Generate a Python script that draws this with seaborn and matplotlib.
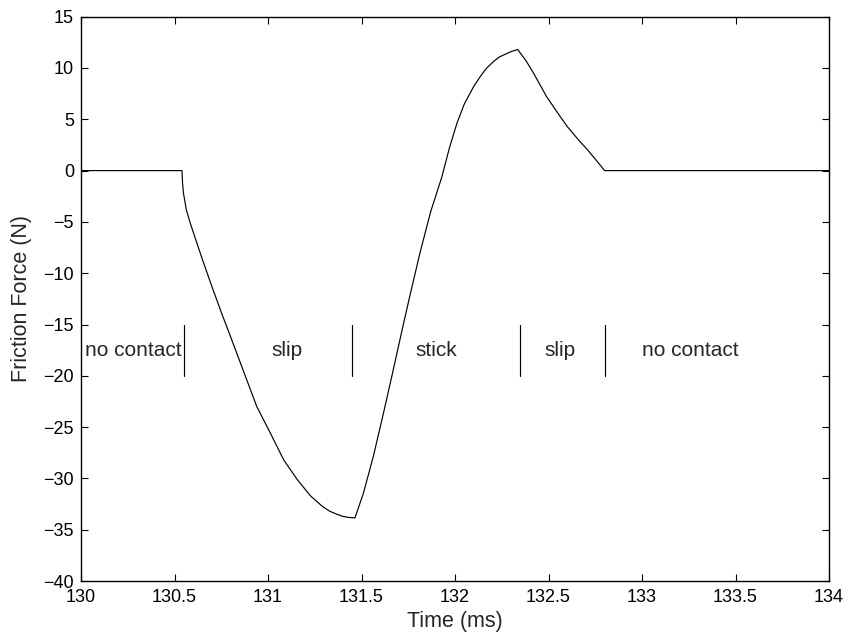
import matplotlib
matplotlib.use("Agg")
import matplotlib.pyplot as plt
import seaborn as sns
import pandas as pd

# ---- data ----
time_ms = [130.0, 130.54, 130.543, 130.548, 130.563, 130.584, 130.602, 130.65, 130.70, 130.75,
           130.80, 130.87, 130.94, 131.013, 131.084, 131.156, 131.227, 131.289, 131.33,
           131.369, 131.40, 131.43, 131.465,
           131.511, 131.564, 131.618, 131.659, 131.72, 131.76, 131.813, 131.87, 131.93,
           131.97, 132.01, 132.05, 132.10, 132.14, 132.17, 132.21, 132.24, 132.30, 132.335,
           132.38, 132.42, 132.49, 132.55, 132.60, 132.66, 132.71, 132.76, 132.80, 134.0]
friction_N = [0.0, 0.0, -1.2, -2.2, -3.8, -5.1, -6.1, -8.7, -11.3, -13.8,
              -16.2, -19.6, -23.0, -25.6, -28.2, -30.1, -31.7, -32.7, -33.2,
              -33.5, -33.7, -33.8, -33.85,
              -31.4, -27.8, -23.6, -20.3, -15.3, -12.1, -8.0, -4.0, -0.6,
              2.2, 4.6, 6.5, 8.2, 9.3, 10.0, 10.7, 11.1, 11.6, 11.8,
              10.7, 9.5, 7.2, 5.6, 4.3, 3.0, 2.0, 0.9, 0.0, 0.0]

phase_bounds = [130.55, 131.45, 132.35, 132.80]
phase_labels = ["no contact", "slip", "stick", "slip", "no contact"]
phase_label_x = [130.28, 131.10, 131.90, 132.56, 133.26]

x_ticks = [130, 130.5, 131, 131.5, 132, 132.5, 133, 133.5, 134]
y_ticks = list(range(-40, 16, 5))

sns.set_style("ticks")
plt.rcParams['font.family'] = ['Liberation Sans', 'DejaVu Sans']
plt.rcParams['axes.unicode_minus'] = True

fig = plt.figure(figsize=(8.49, 6.36), dpi=100)
ax = fig.add_axes([81/849, 55/636, 748/849, 564.3/636])

df = pd.DataFrame({"Time (ms)": time_ms, "Friction Force (N)": friction_N})
sns.lineplot(data=df, x="Time (ms)", y="Friction Force (N)", ax=ax,
             color="black", linewidth=0.85, sort=False, estimator=None)

for b in phase_bounds:
    ax.plot([b, b], [-15, -20], color="black", linewidth=0.85)
for lx, lab in zip(phase_label_x, phase_labels):
    ax.text(lx, -17.5, lab, ha="center", va="center", fontsize=15)

ax.set_xlim(130, 134)
ax.set_ylim(-40, 15)
ax.set_xticks(x_ticks)
ax.set_xticklabels([f"{t:g}" for t in x_ticks])
ax.set_yticks(y_ticks)
ax.tick_params(direction="in", length=5, width=0.8, top=True, right=True,
               labelsize=13, colors="black")
ax.tick_params(axis="x", pad=6)
ax.tick_params(axis="y", pad=5)
for s in ax.spines.values():
    s.set_visible(True)
    s.set_linewidth(1.0)
    s.set_color("black")
ax.set_xlabel("Time (ms)", fontsize=15.5, labelpad=3)
ax.set_ylabel("Friction Force (N)", fontsize=15.5, labelpad=8)

fig.savefig("out.png", dpi=100)
